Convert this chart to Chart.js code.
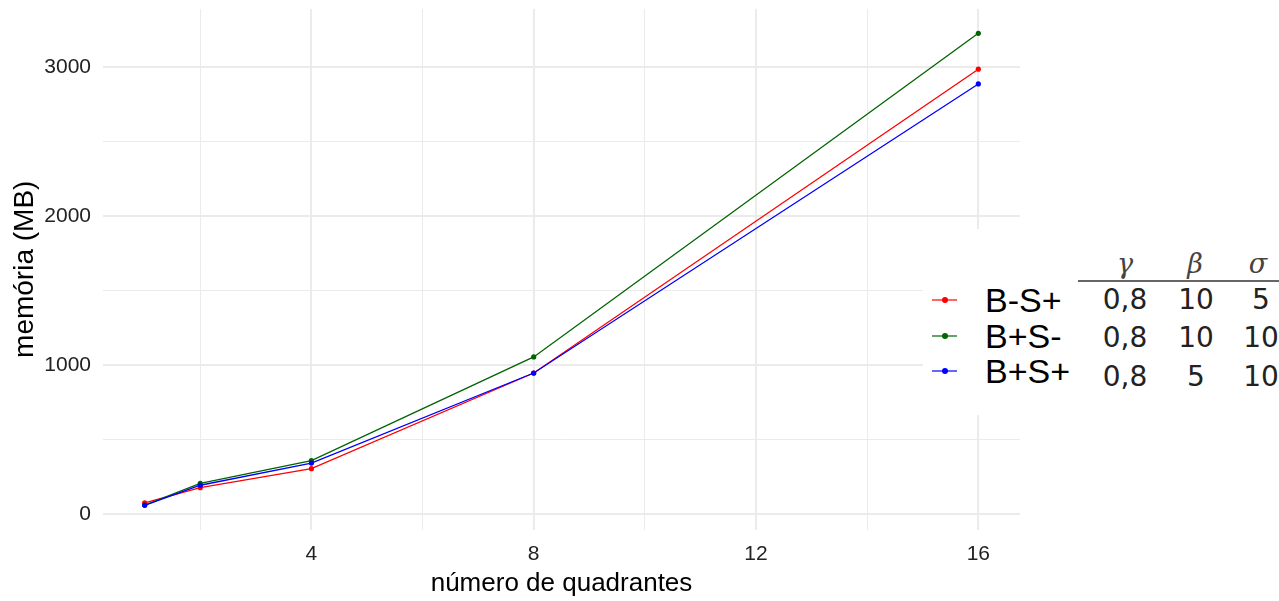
<!DOCTYPE html>
<html>
<head>
<meta charset="utf-8">
<script src="https://cdn.jsdelivr.net/npm/chart.js@4/dist/chart.umd.min.js"></script>
<style>
  html, body { margin:0; padding:0; background:#fff; overflow:hidden; }
  #wrap { position:relative; width:1279px; height:601px; }
  #c { position:absolute; left:0; top:0; }
  #legend { position:absolute; left:923px; top:229px; width:356px; height:186px; background:#fff; overflow:hidden;
            font-family:"Liberation Sans", Arial, sans-serif; color:#000; }
  .t { position:absolute; line-height:1; white-space:nowrap; transform:translate(-50%,-50%); }
  .lab { position:absolute; line-height:1; white-space:nowrap; transform:translateY(-50%); font-size:34px; }
  .key { position:absolute; width:25px; height:2px; transform:translateY(-50%); }
  .dot { position:absolute; width:6px; height:6px; border-radius:50%; left:9.5px; top:-2px; }
  .num { font-size:28px; font-family:"DejaVu Sans", sans-serif; color:#222; }
  .gr { font-size:27px; font-style:italic; font-family:"DejaVu Serif", serif; color:#444; }
  #rule { position:absolute; left:155px; top:51px; width:210px; height:2px; background:#666; }
</style>
</head>
<body>
<div id="wrap">
  <canvas id="c" width="1279" height="601"></canvas>
  <div id="legend"></div>
</div>
<script>
// ---- data ----
const quadrantes = [1, 2, 4, 8, 16];
const seriesNames = ['B-S+', 'B+S-', 'B+S+'];
const memBmSp = [75, 177, 304, 946, 2985];   // B-S+
const memBpSm = [60, 206, 358, 1054, 3226];  // B+S-
const memBpSp = [58, 193, 342, 946, 2886];   // B+S+
const seriesColors = ['#ff0000', '#006400', '#0000ff'];
const keyLineColors = ['rgba(255,0,0,0.6)', 'rgba(0,100,0,0.6)', 'rgba(0,0,255,0.6)'];
const xTicks = [2, 4, 6, 8, 10, 12, 14, 16];
const xTickLabels = ['', '4', '', '8', '', '12', '', '16'];
const yTicks = [0, 500, 1000, 1500, 2000, 2500, 3000];
const yTickLabels = ['0', '', '1000', '', '2000', '', '3000'];
// legend table
const tableHeaders = ['γ', 'β', 'σ'];
const gammaVals = ['0,8', '0,8', '0,8'];
const betaVals = ['10', '10', '5'];
const sigmaVals = ['5', '10', '10'];

const seriesValues = [memBmSp, memBpSm, memBpSp];
const datasets = seriesNames.map((name, i) => ({
  label: name,
  data: quadrantes.map((q, j) => ({x: q, y: seriesValues[i][j]})),
  borderColor: seriesColors[i],
  backgroundColor: seriesColors[i],
  borderWidth: 1.3,
  pointRadius: 2.6,
  pointBorderWidth: 0,
  pointHoverRadius: 3,
  tension: 0,
  order: 3 - i
}));

const GRID = '#ebebeb';
const tickFont = {family: '"Liberation Sans", Arial, sans-serif', size: 21};
const titleFont = {family: '"Liberation Sans", Arial, sans-serif', size: 26};
const yTitleFont = {family: '"Liberation Sans", Arial, sans-serif', size: 28};

new Chart(document.getElementById('c'), {
  type: 'line',
  data: {datasets},
  options: {
    responsive: false,
    animation: false,
    events: [],
    layout: {padding: {left: 0, right: 259, top: 9, bottom: 0}},
    plugins: {legend: {display: false}, tooltip: {enabled: false}},
    scales: {
      x: {
        type: 'linear',
        min: 0.25, max: 16.75,
        afterBuildTicks: s => { s.ticks = xTicks.map(v => ({value: v})); },
        afterFit: s => { s.height = 71.5; s.paddingLeft = 0; s.paddingRight = 0; },
        border: {display: false},
        grid: {
          color: GRID,
          drawTicks: false,
          lineWidth: ctx => (ctx.tick && ctx.tick.value % 4 === 0) ? 2 : 1
        },
        ticks: {
          autoSkip: false, maxRotation: 0, padding: 12,
          color: '#222', font: tickFont,
          callback: (v) => xTickLabels[xTicks.indexOf(v)]
        },
        title: {display: true, text: 'número de quadrantes', color: '#000', font: titleFont, padding: {top: 0, bottom: 2}}
      },
      y: {
        type: 'linear',
        min: -104, max: 3389,
        afterBuildTicks: s => { s.ticks = yTicks.map(v => ({value: v})); },
        afterFit: s => { s.width = 103; s.paddingTop = 0; s.paddingBottom = 0; },
        border: {display: false},
        grid: {
          color: GRID,
          drawTicks: false,
          lineWidth: ctx => (ctx.tick && ctx.tick.value % 1000 === 0) ? 2 : 1
        },
        ticks: {
          autoSkip: false, padding: 12,
          color: '#222', font: tickFont,
          callback: (v) => yTickLabels[yTicks.indexOf(v)]
        },
        title: {display: true, text: 'memória (MB)', color: '#000', font: yTitleFont, padding: {top: 8, bottom: 0}}
      }
    }
  }
});

// ---- legend with parameter table (HTML overlay) ----
const lg = document.getElementById('legend');
const ox = 923, oy = 229;
const rowY = [300, 336, 371];
const numRowY = [300, 337.5, 377];
const colX = [1125, 1196, 1261];
const hdrX = [1125, 1195, 1258];
let html = '';
seriesNames.forEach((n, i) => {
  html += `<div class="key" style="left:${932-ox}px;top:${rowY[i]-oy}px;background:${keyLineColors[i]}"><div class="dot" style="background:${seriesColors[i]}"></div></div>`;
  html += `<div class="lab" style="left:${985-ox}px;top:${rowY[i]-oy}px">${n}</div>`;
});
tableHeaders.forEach((h, k) => {
  html += `<div class="t gr" style="left:${hdrX[k]-ox}px;top:${263-oy}px">${h}</div>`;
});
html += `<div id="rule"></div>`;
[gammaVals, betaVals, sigmaVals].forEach((col, k) => {
  col.forEach((v, i) => {
    html += `<div class="t num" style="left:${colX[k]-ox}px;top:${numRowY[i]-oy}px">${v}</div>`;
  });
});
lg.innerHTML = html;
</script>
</body>
</html>
